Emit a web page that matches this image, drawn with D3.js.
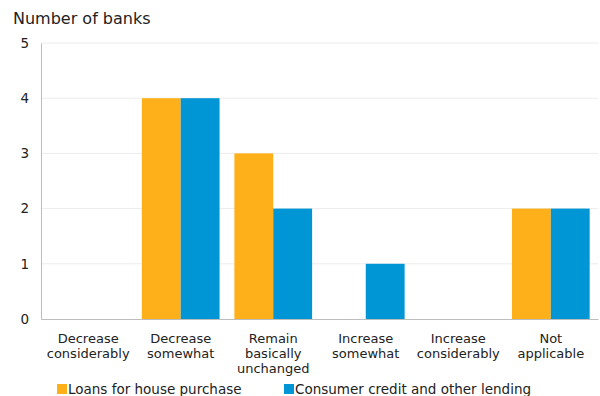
<!DOCTYPE html>
<html><head><meta charset="utf-8">
<script src="https://cdn.jsdelivr.net/npm/d3@7"></script>
<style>body{margin:0;background:#fff}svg{display:block;font-family:"DejaVu Sans",Verdana,sans-serif}</style>
</head><body><svg id="c" width="600" height="396"></svg>
<script>
const categories = [["Decrease","considerably"],["Decrease","somewhat"],["Remain","basically","unchanged"],["Increase","somewhat"],["Increase","considerably"],["Not","applicable"]];
const seriesNames = ["Loans for house purchase","Consumer credit and other lending"];
const loans = [0,4,3,0,0,2];
const consumer = [0,4,2,1,0,2];
const yTicks = [0,1,2,3,4,5];
const colors = ["#FDB01A","#0096D6"];

const svg = d3.select("#c");
const m = {l:41, r:598, t:43, b:319};
const x = d3.scaleBand().domain(d3.range(categories.length)).range([m.l, m.r]).paddingInner(0.16).paddingOuter(0.09);
const x1 = d3.scaleBand().domain([0,1]).range([0, x.bandwidth()]);
const y = d3.scaleLinear().domain([0,5]).range([m.b, m.t]);

svg.append("g").selectAll("line").data(yTicks.slice(1)).join("line")
  .attr("x1", m.l).attr("x2", m.r).attr("y1", d=>y(d)).attr("y2", d=>y(d))
  .attr("stroke","#ececec").attr("stroke-width",1);

const series = [loans, consumer];
series.forEach((vals, si) => {
  svg.append("g").selectAll("rect").data(vals).join("rect")
    .attr("x", (d,i)=> x(i) + x1(si))
    .attr("width", x1.bandwidth())
    .attr("y", d=>y(d))
    .attr("height", d=> y(0)-y(d))
    .attr("fill", colors[si]);
});

const ya = d3.axisLeft(y).tickValues(yTicks).tickSize(0).tickPadding(12).tickFormat(d3.format("d"));
const yg = svg.append("g").attr("transform",`translate(${m.l},0)`).call(ya);
yg.select(".domain").attr("stroke","#bdbdbd");
yg.selectAll("text").attr("font-size",13.5).attr("fill","#222").attr("font-family","DejaVu Sans, sans-serif");

const xa = d3.axisBottom(x).tickSize(0).tickFormat("");
const xg = svg.append("g").attr("transform",`translate(0,${m.b})`).call(xa);
xg.select(".domain").attr("stroke","#bdbdbd");

const lab = svg.append("g").selectAll("text").data(categories).join("text")
  .attr("x",(d,i)=>x(i)+x.bandwidth()/2).attr("y",343)
  .attr("text-anchor","middle").attr("font-size",13).attr("fill","#222");
lab.selectAll("tspan").data(d=>d).join("tspan")
  .attr("x", function(){return this.parentNode.getAttribute("x");})
  .attr("dy",(d,i)=> i===0?0:15).text(d=>d);

svg.append("text").attr("x",13).attr("y",24).attr("font-size",16).attr("fill","#222").text("Number of banks");

const legX = [57, 284];
const lg = svg.append("g").selectAll("g").data(seriesNames).join("g")
  .attr("transform",(d,i)=>`translate(${legX[i]},384)`);
lg.append("rect").attr("width",10).attr("height",10).attr("fill",(d,i)=>colors[i]);
lg.append("text").attr("x",11).attr("y",10).attr("font-size",13.5).attr("fill","#222").text(d=>d);
</script></body></html>
